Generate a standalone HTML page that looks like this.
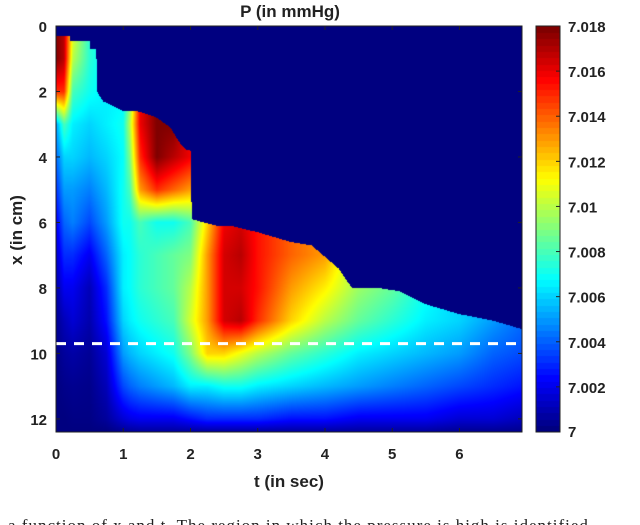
<!DOCTYPE html>
<html><head><meta charset="utf-8"><style>
body{margin:0;background:#fff;width:640px;height:525px;overflow:hidden;position:relative;font-family:"Liberation Sans",sans-serif}
.t{position:absolute;font-weight:bold;color:#222;font-size:15px;white-space:nowrap}
</style></head><body>
<div class="t" style="left:0;width:580px;text-align:center;top:2px;font-size:17px">P (in mmHg)</div>
<div class="t" style="left:-28px;top:220px;width:90px;text-align:center;font-size:17px;transform:rotate(-90deg)">x (in cm)</div>
<div class="t" style="left:56px;width:466px;text-align:center;top:472px;font-size:17px">t (in sec)</div>
<canvas id="hm" width="466" height="406" style="position:absolute;left:56px;top:26px"></canvas>
<canvas id="cb" width="24" height="406" style="position:absolute;left:536px;top:26px"></canvas>
<svg id="ov" width="640" height="525" style="position:absolute;left:0;top:0"></svg>
<div style="position:absolute;left:0;top:0;width:640px;height:525px;overflow:hidden">
<div style="position:absolute;left:8px;top:516px;font-family:'Liberation Serif',serif;font-size:17px;color:#222;white-space:nowrap;letter-spacing:1px">a function of x and t. The region in which the pressure is high is identified</div>
</div>
<script>
// data
const T=[0,0.12,0.25,0.5,0.75,1.0,1.1,1.25,1.5,1.75,2.0,2.25,2.5,2.75,3,3.5,4,4.5,5,5.5,6,6.5,7];
const X=[0,1,2,3,4,5,6,7,8,9,10,11,12,12.4];
// values in units of 0.001 mmHg above 7, one array per t column
const V=[
[18,18,15,5,4,3,2,1.2,0.6,0.3,0.1,0,0,0],
[17,17,15,8,6,5,4,3,2,1,0.5,0.2,0,0],
[11,10,8,6.5,6,5,4.5,3,2,1.5,0.7,0.3,0.1,0],
[7.5,7.5,7,6,5.5,4.5,3.5,2,1,0.8,0.4,0.2,0.1,0],
[6.5,6.5,6.5,6.5,6,5.5,5,4,3,2.5,1.5,1,0.5,0],
[6.5,6.5,6.5,7,6.8,7,7,6.5,6.5,6,5,3.5,1.5,0.3],
[9,9,9,10,9,8,7,6.8,6.8,6.5,5.5,4,1.8,0.4],
[16,16,16,16,15,13,8,7.5,7.5,7,6,4.5,2,0.5],
[18,18,18,18,18,15,7,8,8,7.5,6.5,5,2,0.5],
[18,18,18,18,17,14,7,8.5,8.5,8,7,5.5,2,0.5],
[16,16,16,16,16,13,8,9,10,10.5,9,6.5,2.5,0.5],
[12,12,12,12,12,12,12,13,13,13,12,6.5,3,0.5],
[16,16,16,16,16,16,16,16.5,16.5,16.5,12,7,3,0.5],
[16.5,16.5,16.5,16.5,16.5,16.5,16.5,17,16.5,17,11,7,3,0.5],
[15.5,15.5,15.5,15.5,15.5,15.5,15.5,15.5,15.5,15,10,6.5,3,0.5],
[14,14,14,14,14,14,14,14,13,12,8.5,6,2.5,0.5],
[13,13,13,13,13,13,13,13,11.5,10,7.5,5.5,2.5,0.5],
[9.5,9.5,9.5,9.5,9.5,9.5,9.5,9.5,9.5,8.5,6.5,5,2,0.5],
[8.5,8.5,8.5,8.5,8.5,8.5,8.5,8.5,8.5,7.5,6,4.5,2,0.5],
[7,7,7,7,7,7,7,7,7,6.5,5.5,4,2,0.5],
[6,6,6,6,6,6,6,6,6,6,5,3.5,1.5,0.3],
[5,5,5,5,5,5,5,5,5,5,4,3,1.5,0.3],
[4,4,4,4,4,4,4,4,4,4,3.5,2.5,1,0.2]];
// front boundary (x in cm) over t
const BT=[0,0.2,0.21,0.5,0.51,0.6,0.61,0.7,0.8,0.9,1.0,1.2,1.3,1.5,1.7,1.85,1.95,2.0,2.02,2.2,2.4,2.6,3.0,3.5,3.8,4.2,4.4,4.8,5.1,5.5,6.0,6.5,7.0];
const BX=[0.3,0.3,0.45,0.45,0.7,0.7,2.0,2.3,2.4,2.5,2.6,2.6,2.65,2.8,3.1,3.6,3.8,3.8,5.9,6.0,6.1,6.1,6.3,6.6,6.7,7.4,8.0,8.0,8.1,8.5,8.8,9.0,9.3];
const xTicks=[0,1,2,3,4,5,6];
const yTicks=[0,2,4,6,8,10,12];
const cTicks=[7,7.002,7.004,7.006,7.008,7.01,7.012,7.014,7.016,7.018];
const dashX=9.7;

const L=56,TOP=26,W=466,H=406,TMAX=6.93,XMAX=12.4,VMAX=18;
const sx=t=>L+t/TMAX*W, sy=x=>TOP+x/XMAX*H;
function seg(arr,v){let i=0;while(i<arr.length-2&&v>arr[i+1])i++;let f=(v-arr[i])/(arr[i+1]-arr[i]);return [i,Math.max(0,Math.min(1,f))];}
function bound(t){const [i,f]=seg(BT,t);return BX[i]+(BX[i+1]-BX[i])*f;}
function val(t,x){const [i,f]=seg(T,t),[j,g]=seg(X,x);
 const a=V[i][j]*(1-g)+V[i][j+1]*g, b=V[i+1][j]*(1-g)+V[i+1][j+1]*g;return a*(1-f)+b*f;}
function jet(v){const c=x=>Math.max(0,Math.min(1,x));return [c(1.5-Math.abs(4*v-3)),c(1.5-Math.abs(4*v-2)),c(1.5-Math.abs(4*v-1))].map(q=>Math.round(q*255));}
const ctx=document.getElementById('hm').getContext('2d');const img=ctx.createImageData(W,H);
for(let py=0;py<H;py++)for(let px=0;px<W;px++){const t=(px+0.5)/W*TMAX,x=(py+0.5)/H*XMAX;
 let v=x<bound(t)?0:val(t,x)/VMAX;const c=jet(v),k=(py*W+px)*4;img.data[k]=c[0];img.data[k+1]=c[1];img.data[k+2]=c[2];img.data[k+3]=255;}
ctx.putImageData(img,0,0);
const cb=document.getElementById('cb').getContext('2d');
for(let py=0;py<H;py++){const n=Math.floor((1-py/H)*64)/63;const c=jet(Math.min(1,n));cb.fillStyle=`rgb(${c})`;cb.fillRect(0,py,24,1);}
const ov=document.getElementById('ov');const NS='http://www.w3.org/2000/svg';
function mk(tag,at,txt){const e=document.createElementNS(NS,tag);for(const k in at)e.setAttribute(k,at[k]);if(txt!=null)e.textContent=txt;ov.appendChild(e);return e;}
const dl=mk('line',{x1:L,x2:L+W,y1:sy(dashX),y2:sy(dashX),stroke:'#fff','stroke-width':3,'stroke-dasharray':'10 8'});


mk('rect',{x:L,y:TOP,width:W,height:H,fill:'none',stroke:'#222','stroke-width':1});
mk('rect',{x:536,y:TOP,width:24,height:H,fill:'none',stroke:'#222','stroke-width':1});
xTicks.forEach(t=>{const x=sx(t);mk('line',{x1:x,x2:x,y1:TOP+H,y2:TOP+H-4,stroke:'#222'});mk('line',{x1:x,x2:x,y1:TOP,y2:TOP+4,stroke:'#222'});
 const e=mk('text',{x:x,y:459,'text-anchor':'middle','font-size':15,'font-weight':'bold',fill:'#222','font-family':'Liberation Sans'},t);
 
 });
yTicks.forEach(v=>{const y=sy(v);mk('line',{x1:L,x2:L+4,y1:y,y2:y,stroke:'#222'});mk('line',{x1:L+W,x2:L+W-4,y1:y,y2:y,stroke:'#222'});
 const e=mk('text',{x:47,y:y+6,'text-anchor':'end','font-size':15,'font-weight':'bold',fill:'#222','font-family':'Liberation Sans'},v);
 
 });
cTicks.forEach(v=>{const y=TOP+H-(v-7)/0.018*H;mk('line',{x1:556,x2:560,y1:y,y2:y,stroke:'#222'});
 const e=mk('text',{x:568,y:Math.min(y+6,437),'font-size':15,'font-weight':'bold',fill:'#222','font-family':'Liberation Sans'},String(v));
 
 });
</script>
</body></html>
